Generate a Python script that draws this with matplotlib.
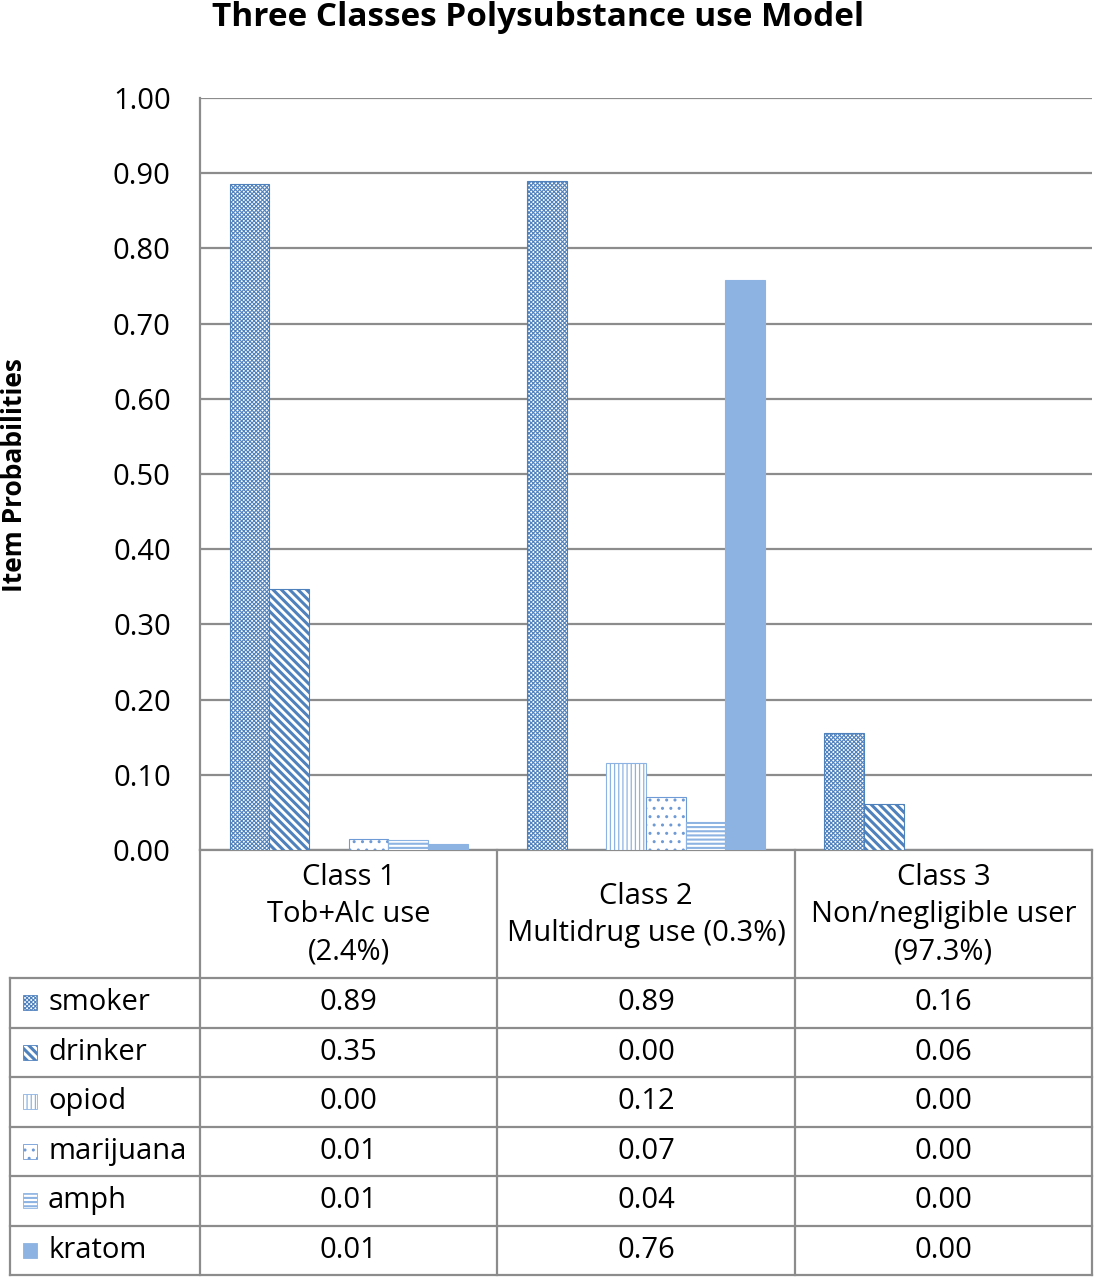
import matplotlib
matplotlib.use("Agg")
import matplotlib.pyplot as plt
from matplotlib.patches import Rectangle
import numpy as np

plt.rcParams['font.family'] = ['Open Sans', 'DejaVu Sans']

# data (item probabilities per latent class)
classes = ["Class 1\nTob+Alc use\n(2.4%)",
           "Class 2\nMultidrug use (0.3%)",
           "Class 3\nNon/negligible user\n(97.3%)"]
series = ["smoker", "drinker", "opiod", "marijuana", "amph", "kratom"]
smoker = [0.886, 0.890, 0.156]
drinker = [0.347, 0.000, 0.061]
opiod = [0.000, 0.116, 0.000]
marijuana = [0.0146, 0.070, 0.000]
amph = [0.013, 0.037, 0.000]
kratom = [0.008, 0.758, 0.000]
values = [smoker, drinker, opiod, marijuana, amph, kratom]

hatches = ['xxxxxxxx', '\\' * 4, '||||', '..', '----', None]
hcolors = ['#4F81BD', '#4F81BD', '#8DB3E2', '#6E9AD5', '#8DB3E2', '#8DB3E2']
faces = ['white', 'white', 'white', 'white', 'white', '#8DB3E2']
hlw = [0.8, 2.2, 0.9, 1.0, 1.5, 1.0]
grey = '#8C8C8C'


def style(p, j):
    if hasattr(p, 'set_hatch_linewidth'):
        p.set_hatch_linewidth(hlw[j])


W, H = 1097, 1280
fig = plt.figure(figsize=(W / 100, H / 100), dpi=100)

ax = fig.add_axes([200 / W, (H - 850) / H, 892 / W, 752 / H])
x = np.arange(len(classes))
bw = 0.8 / len(series)
for j, vals in enumerate(values):
    with plt.rc_context({'hatch.linewidth': hlw[j]}):
        bars = ax.bar(x + (j - 2.5) * bw, vals, bw, color=faces[j],
                      edgecolor=hcolors[j], hatch=hatches[j], linewidth=0.8,
                      zorder=3)
    for b in bars:
        style(b, j)

ax.set_xlim(-0.5, 2.5)
ax.set_ylim(0, 1)
ax.set_yticks(np.arange(0, 1.01, 0.1))
ax.set_yticklabels([f"{t:.2f}" for t in np.arange(0, 1.01, 0.1)], fontsize=21)
ax.set_xticks([])
ax.tick_params(axis='y', length=0, pad=21)
ax.grid(axis='y', color=grey, linewidth=1.6, zorder=0)
for s in ['top', 'right']:
    ax.spines[s].set_visible(False)
for s in ['left', 'bottom']:
    ax.spines[s].set_color(grey)
    ax.spines[s].set_linewidth(1.6)

fig.text(538 / W, 1 - 18 / H, "Three Classes Polysubstance use Model",
         ha='center', va='center', fontsize=24, fontweight='bold')
fig.text(15 / W, 1 - 475 / H, "Item Probabilities", rotation=90,
         ha='center', va='center', fontsize=19, fontweight='bold')

# data table under the plot
cat_px = 892 / 3
xmin = -0.5 - 190 / cat_px
hh = 128 / 49.5
tb = fig.add_axes([10 / W, (H - 1275) / H, 1082 / W, 425 / H])
tb.set_xlim(xmin, 2.5)
tb.set_ylim(hh + len(series), 0)
tb.axis('off')

for xv in [-0.5, 0.5, 1.5, 2.5]:
    tb.plot([xv, xv], [0, hh + len(series)], color=grey, lw=1.6, clip_on=False)
tb.plot([xmin, xmin], [hh, hh + len(series)], color=grey, lw=1.6, clip_on=False)
for r in range(len(series) + 1):
    tb.plot([xmin, 2.5], [hh + r, hh + r], color=grey, lw=1.6, clip_on=False)

for i, c in enumerate(classes):
    tb.text(i, hh / 2 + 0.02, c, ha='center', va='center', fontsize=21,
            linespacing=1.38)

for j, name in enumerate(series):
    yc = hh + j + 0.5
    sw = Rectangle((xmin + 13 / cat_px, yc - 0.15), 14 / cat_px, 0.30,
                   facecolor=faces[j], edgecolor=hcolors[j],
                   hatch=hatches[j], linewidth=0.6)
    style(sw, j)
    tb.add_patch(sw)
    tb.text(xmin + 38 / cat_px, yc, name, ha='left', va='center', fontsize=21)
    for i in range(len(classes)):
        tb.text(i, yc, f"{values[j][i]:.2f}", ha='center', va='center',
                fontsize=21)

fig.savefig("out.png", dpi=100)
